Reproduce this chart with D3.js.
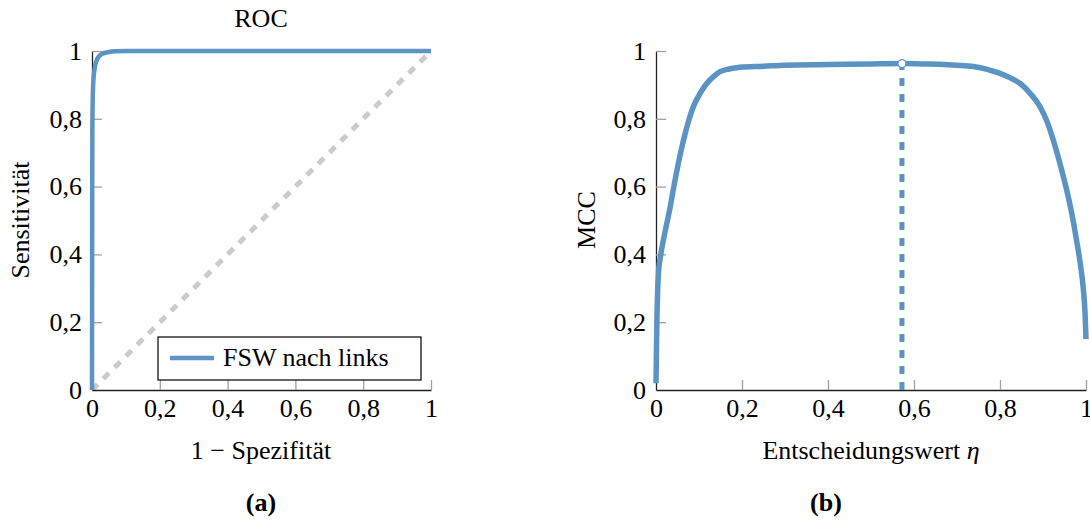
<!DOCTYPE html>
<html>
<head>
<meta charset="utf-8">
<script src="https://cdn.jsdelivr.net/npm/d3@7"></script>
<style>
  body { margin: 0; background: #fff; }
  svg, svg text { font-family: "Liberation Serif", "DejaVu Serif", "Times New Roman", serif; }
</style>
</head>
<body>
<div class="canvas"></div>
<script>
// ROC curve (left)
const rocFpr = [0, 0.0005, 0.001, 0.002, 0.004, 0.008, 0.014, 0.022, 0.033, 0.05, 0.07, 0.1, 0.3, 1];
const rocTpr = [0, 0.5, 0.75, 0.85, 0.91, 0.95, 0.973, 0.986, 0.993, 0.997, 0.999, 1, 1, 1];
const chance = [0, 1];

// MCC over decision value (right)
const mccEta = [0, 0.002, 0.004, 0.006, 0.01, 0.02, 0.033, 0.04, 0.064, 0.087, 0.105, 0.118, 0.135, 0.149,
    0.17, 0.195, 0.25, 0.3, 0.4, 0.5, 0.572, 0.62, 0.66, 0.7, 0.738, 0.77, 0.8, 0.825, 0.847, 0.87,
    0.893, 0.91, 0.924, 0.94, 0.955, 0.967, 0.978, 0.987, 0.994, 0.998, 1.0];
const mccVal = [0.02, 0.2, 0.3, 0.35, 0.39, 0.46, 0.54, 0.59, 0.737, 0.836, 0.88, 0.904, 0.926, 0.939,
    0.947, 0.952, 0.955, 0.958, 0.96, 0.962, 0.963, 0.962, 0.961, 0.958, 0.954, 0.946, 0.934, 0.92, 0.904, 0.875,
    0.836, 0.79, 0.737, 0.665, 0.59, 0.52, 0.442, 0.37, 0.295, 0.22, 0.15];
const etaOpt = 0.572;
const mccOpt = 0.963;

const ticks = [0, 0.2, 0.4, 0.6, 0.8, 1];
const tickLabels = ['0', '0,2', '0,4', '0,6', '0,8', '1'];

const blue = '#5b94c4';
const font = '"Liberation Serif", "DejaVu Serif", serif';
const fs = 26;
const dims = { width: 1090, height: 526 };

const svg = d3.select('.canvas')
    .append('svg')
    .attr('width', dims.width)
    .attr('height', dims.height)
    .attr('font-family', font)
;

const fmt = v => tickLabels[ticks.indexOf(v)];

const drawAxes = (g, x, y) => {
    const xAxis = d3.axisBottom(x).tickValues(ticks).tickFormat(fmt)
        .tickSizeInner(-10).tickSizeOuter(0).tickPadding(9);
    const yAxis = d3.axisLeft(y).tickValues(ticks).tickFormat(fmt)
        .tickSizeInner(-10).tickSizeOuter(0).tickPadding(10);

    const gx = g.append('g').attr('transform', `translate(0, ${y(0)})`).call(xAxis);
    const gy = g.append('g').attr('transform', `translate(${x(0)}, 0)`).call(yAxis);

    [gx, gy].forEach(a => {
        a.attr('font-family', font).attr('font-size', fs);
        a.select('.domain').attr('stroke', '#222').attr('stroke-width', 1.3);
        a.selectAll('.tick line').attr('stroke', '#a0a0a0').attr('stroke-width', 1.3);
        a.selectAll('.tick text').attr('fill', '#000').attr('font-family', font);
    });
    gx.select('.tick:first-of-type line').remove();
    gy.select('.tick:first-of-type line').remove();
};

const label = (g, x, y, txt, opts = {}) => g.append('text')
    .attr('x', x).attr('y', y)
    .attr('text-anchor', 'middle')
    .attr('font-family', font)
    .attr('font-size', fs)
    .attr('font-weight', opts.bold ? 'bold' : null)
    .attr('transform', opts.rotate ? `rotate(-90, ${x}, ${y})` : null)
    .text(txt);

// ---------- (a) ROC ----------
const xA = d3.scaleLinear().domain([0, 1]).range([92, 431]);
const yA = d3.scaleLinear().domain([0, 1]).range([390, 51]);
const gA = svg.append('g');

gA.append('path')
    .attr('d', d3.line().x(d => xA(d)).y(d => yA(d))(chance))
    .attr('fill', 'none')
    .attr('stroke', '#cbcbcb')
    .attr('stroke-width', 5)
    .attr('stroke-dasharray', '8 8')
;

drawAxes(gA, xA, yA);

gA.append('path')
    .datum(rocFpr.map((v, i) => [v, rocTpr[i]]))
    .attr('d', d3.line().x(d => xA(d[0])).y(d => yA(d[1])).curve(d3.curveMonotoneX))
    .attr('fill', 'none')
    .attr('stroke', blue)
    .attr('stroke-width', 4.5)
;

// legend
const leg = gA.append('g');
leg.append('rect')
    .attr('x', 158).attr('y', 337).attr('width', 263).attr('height', 43)
    .attr('fill', '#fff').attr('stroke', '#000').attr('stroke-width', 1.2);
leg.append('line')
    .attr('x1', 170).attr('x2', 214).attr('y1', 358).attr('y2', 358)
    .attr('stroke', blue).attr('stroke-width', 4.5);
leg.append('text')
    .attr('x', 223).attr('y', 366).attr('font-size', fs).attr('font-family', font)
    .text('FSW nach links');

label(gA, 261, 27, 'ROC');
label(gA, 261, 459, '1 \u2212 Spezifität');
label(gA, 29, 220, 'Sensitivität', { rotate: true });
label(gA, 261, 511, '(a)', { bold: true });

// ---------- (b) MCC ----------
const xB = d3.scaleLinear().domain([0, 1]).range([656, 1086]);
const yB = d3.scaleLinear().domain([0, 1]).range([390, 51]);
const gB = svg.append('g');

drawAxes(gB, xB, yB);

gB.append('line')
    .attr('x1', xB(etaOpt)).attr('x2', xB(etaOpt))
    .attr('y1', yB(0)).attr('y2', yB(mccOpt))
    .attr('stroke', blue).attr('stroke-width', 5)
    .attr('stroke-dasharray', '8 8')
;

gB.append('path')
    .datum(mccEta.map((v, i) => [v, mccVal[i]]))
    .attr('d', d3.line().x(d => xB(d[0])).y(d => yB(d[1])).curve(d3.curveMonotoneX))
    .attr('fill', 'none')
    .attr('stroke', blue)
    .attr('stroke-width', 5.5)
;

gB.append('circle')
    .attr('cx', xB(etaOpt)).attr('cy', yB(mccOpt)).attr('r', 4)
    .attr('fill', '#fff').attr('stroke', blue).attr('stroke-width', 1.2);

gB.append('text').attr('x', 871).attr('y', 459).attr('text-anchor', 'middle')
    .attr('font-size', fs).attr('font-family', font)
    .call(t => {
        t.append('tspan').text('Entscheidungswert ');
        t.append('tspan').attr('font-style', 'italic').text('\u03b7');
    });
label(gB, 595, 220, 'MCC', { rotate: true });
label(gB, 826, 511, '(b)', { bold: true });
</script>
</body>
</html>
